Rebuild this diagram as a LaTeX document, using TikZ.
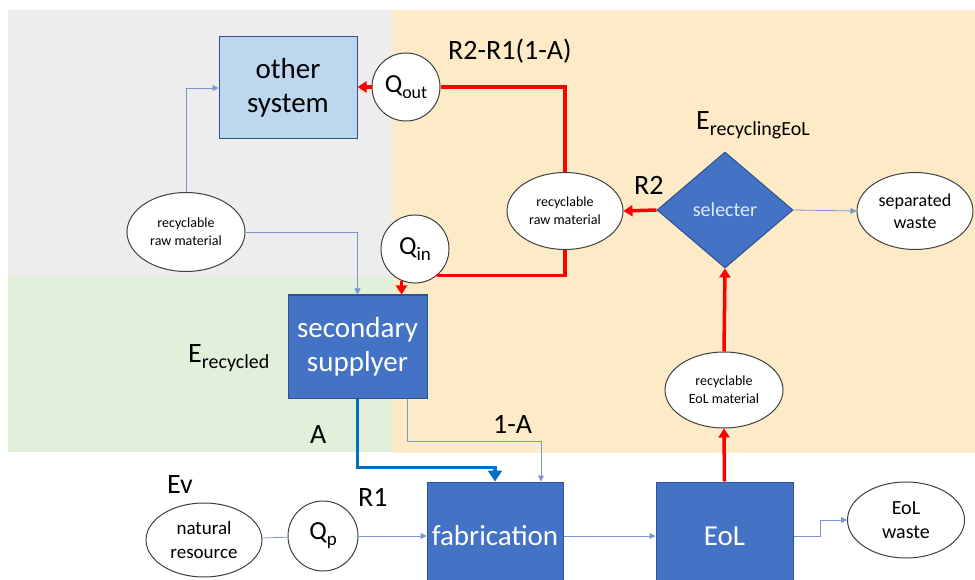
\documentclass[tikz,border=0pt]{standalone}
\usepackage{fontspec}
\setmainfont{Carlito}
\usetikzlibrary{shapes.geometric,arrows.meta}
\definecolor{bggray}{RGB}{237,237,237}
\definecolor{bggreen}{RGB}{226,239,218}
\definecolor{bgorange}{RGB}{253,235,200}
\definecolor{boxblue}{RGB}{68,114,196}
\definecolor{boxborder}{RGB}{47,82,143}
\definecolor{lightbox}{RGB}{189,215,238}
\definecolor{thinblue}{RGB}{122,150,207}
\definecolor{thickblue}{RGB}{0,112,192}
\definecolor{seltext}{RGB}{222,235,247}
\newcommand\fsz[2]{\fontsize{#1}{#2}\selectfont}
\newcommand\subtx[2]{\raisebox{-6pt}{\fontsize{#1}{#1}\selectfont #2}}
\begin{document}
\begin{tikzpicture}[x=1pt,y=-1pt,
  bluebox/.style={rectangle, draw=boxborder, fill=boxblue, text=white, line width=1pt, inner sep=0pt, align=center, font=\fsz{29}{34}},
  ell/.style={ellipse, draw=black!75, fill=white, line width=1pt, inner sep=0pt, align=center},
  circ/.style={circle, draw=black!75, fill=white, line width=1pt, inner sep=0pt, minimum size=68pt},
  lbl/.style={inner sep=0pt, anchor=base west, font=\fsz{28}{32}},
  redline/.style={draw=red, line width=3.5pt},
  redarr/.style={draw=red, line width=3.5pt, -{Triangle[length=9pt,width=11pt]}},
  thinarr/.style={draw=thinblue, line width=0.8pt, -{Triangle[length=6pt,width=6pt]}},
  thinline/.style={draw=thinblue, line width=0.8pt},
  thickarr/.style={draw=thickblue, line width=3.5pt, -{Triangle[length=11pt,width=14pt]}}]
\useasboundingbox (0,0) rectangle (975,580);
% backgrounds
\fill[bggray] (8,10) rectangle (393,277);
\fill[bggreen] (8,277) rectangle (393,452);
\fill[bgorange] (393,10) rectangle (975,453);
% nodes
\node[rectangle, draw=boxborder, fill=lightbox, line width=1pt, minimum width=138pt, minimum height=102pt, align=center, font=\fsz{29}{34}] (other) at (288,88) {other\\system};
\node[circ] (qout) at (406,87) {\fsz{26}{30}Q\subtx{18}{out}};
\node[circ] (qin) at (415,249) {\fsz{26}{30}Q\subtx{19}{in}};
\node[ell, minimum width=116pt, minimum height=77pt, font=\fsz{14}{18}] (rrm2) at (565,211) {recyclable\\raw material};
\node[diamond, aspect=1.17, draw=boxborder, fill=boxblue, line width=1pt, inner sep=0pt, minimum width=136pt, minimum height=116pt, text=seltext, font=\fsz{20}{24}] (sel) at (725,210) {selecter};
\node[ell, minimum width=116pt, minimum height=77pt, font=\fsz{18}{22}] (sepw) at (915,211) {separated\\waste};
\node[ell, minimum width=118pt, minimum height=79pt, font=\fsz{14}{18}] (rrm1) at (186,232) {recyclable\\raw material};
\node[bluebox, minimum width=139pt, minimum height=103pt] (sec) at (357.5,346.5) {secondary\\supplyer};
\node[bluebox, minimum width=136pt, minimum height=108pt] (fab) at (495,536) {fabrication};
\node[bluebox, minimum width=137pt, minimum height=108pt] (eol) at (724.5,536) {EoL};
\node[ell, minimum width=117pt, minimum height=76pt, font=\fsz{20}{24}] (eolw) at (906,520) {EoL\\waste};
\node[ell, minimum width=118pt, minimum height=76pt, font=\fsz{14}{18}] (rem) at (724,390) {recyclable\\EoL material};
\node[ell, minimum width=116pt, minimum height=74pt, font=\fsz{19}{24}] (nat) at (204,540) {natural\\resource};
\node[circ, minimum size=70pt] (qp) at (323,536) {\fsz{26}{30}Q\subtx{19}{p}};
% labels
\node[lbl] (l1) at (448,60) {R2-R1(1-A)};
\node[lbl] (l2) at (696,130) {E\subtx{20}{recyclingEoL}};
\node[lbl] (l3) at (634,195) {R2};
\node[lbl] (l4) at (188,362) {E\subtx{20}{recycled}};
\node[lbl] (l5) at (310,443) {A};
\node[lbl] (l6) at (493,433) {1-A};
\node[lbl] (l7) at (167,493) {Ev};
\node[lbl] (l8) at (358,506) {R1};
% connectors
\draw[redline] (rrm2.north) |- (qout.east);
\draw[redarr] (qout.west) -- (qout.west -| other.east);
\draw[redline] (rrm2.south) |- (qin.-50);
\draw[redarr] (qin.247) -- (qin.247 |- sec.north);
\draw[redarr] (sel.west) -- (rrm2.east);
\draw[thinarr] (sel.east) -- (sepw.west);
\draw[thinarr] (rrm1.north) |- (other.west);
\draw[thinarr] (rrm1.east) -| (sec.north);
\draw[thickarr] (sec.south) -- ++(0,69) -| (fab.north);
\draw[thinarr] ([xshift=50pt]sec.south) -- ++(0,43) -| ([xshift=46pt]fab.north);
\draw[thinline] (nat) -- (qp);
\draw[thinarr] (qp.east) -- (qp.east -| fab.west);
\draw[thinarr] (fab.east) -- (eol.west);
\draw[thinarr] (eol.east) -- ++(27,0) |- (eolw.west);
\draw[redarr] (eol.north) -- (rem.south);
\draw[redarr] (rem.north) -- (sel.south);
\end{tikzpicture}
\end{document}
